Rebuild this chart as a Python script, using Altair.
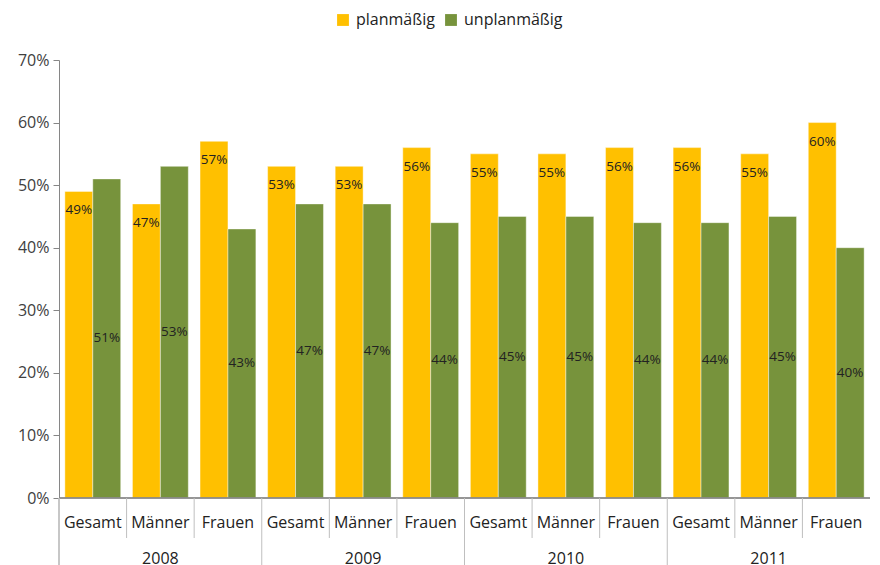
import altair as alt
import pandas as pd

years = ["2008", "2009", "2010", "2011"]
groups = ["Gesamt", "Männer", "Frauen"]
series = ["planmäßig", "unplanmäßig"]
plan = [49, 47, 57, 53, 53, 56, 55, 55, 56, 56, 55, 60]
unplan = [51, 53, 43, 47, 47, 44, 45, 45, 44, 44, 45, 40]
colors = ["#FFC000", "#77933C"]

W, H = 811, 438
FONT = "Open Sans"

keys = [f"{y} {g}" for y in years for g in groups]
rows = []
for i, k in enumerate(keys):
    rows.append({"key": k, "group": groups[i % 3], "series": series[0], "value": plan[i] / 100})
    rows.append({"key": k, "group": groups[i % 3], "series": series[1], "value": unplan[i] / 100})
df = pd.DataFrame(rows)

xs = alt.Scale(domain=keys, paddingInner=0, paddingOuter=0)
xo = alt.XOffset("series:N", sort=series, scale=alt.Scale(domain=series, paddingOuter=0.21, paddingInner=0))
ys = alt.Scale(domain=[0, 0.7])

base = alt.Chart(df)

bars = base.mark_bar(stroke="#FFFFFF", strokeWidth=0.6, strokeOpacity=0.7).encode(
    x=alt.X("key:N", scale=xs, axis=None, sort=keys),
    xOffset=xo,
    y=alt.Y("value:Q", scale=ys, title=None,
            axis=alt.Axis(format=".0%", values=[0, 0.1, 0.2, 0.3, 0.4, 0.5, 0.6, 0.7],
                          grid=False, domainColor="#868686", tickColor="#868686",
                          tickSize=6, labelPadding=4, labelFontSize=16, labelFont=FONT,
                          labelColor="#404040")),
    color=alt.Color("series:N", sort=series, scale=alt.Scale(domain=series, range=colors),
                    legend=alt.Legend(title=None, orient="none", direction="horizontal",
                                      legendX=276, legendY=-48, symbolType="square",
                                      symbolSize=140, symbolStrokeWidth=0, labelFontSize=16,
                                      labelFont=FONT, labelColor="#222222", labelOffset=5,
                                      columnPadding=8)),
)

plan_lbl = base.transform_filter(alt.datum.series == series[0]).mark_text(
    baseline="middle", dy=19, fontSize=13.5, font=FONT, color="#222222"
).encode(
    x=alt.X("key:N", scale=xs, sort=keys),
    xOffset=xo,
    y=alt.Y("value:Q", scale=ys),
    text=alt.Text("value:Q", format=".0%"),
)

unplan_lbl = base.transform_filter(alt.datum.series == series[1]).transform_calculate(
    mid="datum.value / 2"
).mark_text(baseline="middle", fontSize=13.5, font=FONT, color="#222222").encode(
    x=alt.X("key:N", scale=xs, sort=keys),
    xOffset=xo,
    y=alt.Y("mid:Q", scale=ys),
    text=alt.Text("value:Q", format=".0%"),
)

cat_df = pd.DataFrame({"key": keys, "group": [groups[i % 3] for i in range(12)]})
cat_lbl = alt.Chart(cat_df).mark_text(baseline="middle", fontSize=16, font=FONT, color="#222222").encode(
    x=alt.X("key:N", scale=xs, sort=keys),
    y=alt.value(H + 25),
    text="group:N",
)

year_df = pd.DataFrame({"key": [f"{y} Männer" for y in years], "year": years})
year_lbl = alt.Chart(year_df).mark_text(baseline="middle", fontSize=16, font=FONT, color="#222222").encode(
    x=alt.X("key:N", scale=xs, sort=keys),
    y=alt.value(H + 61),
    text="year:N",
)

short_df = pd.DataFrame({"key": [k for k in keys if not k.endswith("Gesamt")]})
short_sep = alt.Chart(short_df).mark_rule(color="#BFBFBF", strokeWidth=1).encode(
    x=alt.X("key:N", scale=xs, sort=keys, bandPosition=0),
    y=alt.value(H),
    y2=alt.value(H + 40),
)
long_df = pd.DataFrame({"key": [f"{y} Gesamt" for y in years[1:]]})
long_sep = alt.Chart(long_df).mark_rule(color="#BFBFBF", strokeWidth=1).encode(
    x=alt.X("key:N", scale=xs, sort=keys, bandPosition=0),
    y=alt.value(H),
    y2=alt.value(H + 75),
)
left_ext = alt.Chart(long_df).mark_rule(color="#BFBFBF", strokeWidth=1).encode(
    x=alt.value(0), y=alt.value(H), y2=alt.value(H + 75)
)
baseline = alt.Chart(long_df).mark_rule(color="#868686", strokeWidth=1).encode(
    x=alt.value(0), x2=alt.value(W), y=alt.value(H)
)

chart = alt.layer(
    bars, baseline, short_sep, long_sep, left_ext, plan_lbl, unplan_lbl, cat_lbl, year_lbl
).properties(width=W, height=H, padding={"left": 9, "top": 4, "right": 0, "bottom": 0}).configure_view(stroke=None)

chart.save("out.html", embed_options={"renderer": "svg", "actions": False})
